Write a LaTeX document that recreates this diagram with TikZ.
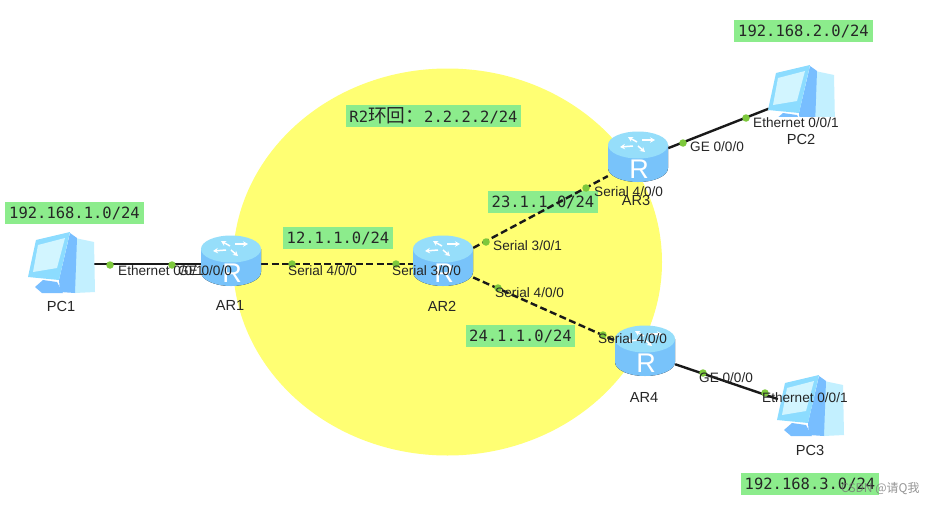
\documentclass[tikz,border=0pt]{standalone}
\usepackage{xcolor}
\usepackage{fontspec}
\setmainfont{Liberation Sans}
\setmonofont{DejaVu Sans Mono}
\newfontfamily\cjkfont{Noto Sans CJK SC}
\usetikzlibrary{arrows.meta, positioning}
\definecolor{loopyellow}{RGB}{255,255,115}
\definecolor{netgreen}{RGB}{140,236,140}
\definecolor{portgreen}{RGB}{125,200,60}
\definecolor{bodyblue}{RGB}{120,195,250}
\definecolor{bodylight}{RGB}{150,225,255}
\definecolor{topblue}{RGB}{150,222,250}
\definecolor{pcblue}{RGB}{120,190,255}
\definecolor{pcframe}{RGB}{140,220,255}
\definecolor{pctower}{RGB}{195,240,255}
\definecolor{pcscreen}{RGB}{210,245,255}
\tikzset{
  netbox/.style={fill=netgreen, inner sep=0pt, minimum height=22pt, font=\ttfamily\fontsize{15.5}{18}\selectfont, text=black!85},
  hub/.style={inner sep=0pt, minimum width=60pt, minimum height=52pt},
  pchub/.style={inner sep=0pt, minimum width=64pt, minimum height=62pt},
  ethernet/.style={line width=2.4pt, black!90},
  serial/.style={line width=2.4pt, black!90, dash pattern=on 7pt off 3.5pt},
  port/.style={circle, fill=portgreen, inner sep=0pt, minimum size=7.5pt},
  portlabel/.style={anchor=west, inner sep=0pt, font=\fontsize{13.6}{16}\selectfont, text=black!85},
  devicelabel/.style={inner sep=0pt, font=\fontsize{14.6}{17}\selectfont, text=black!85},
  routerarrow/.style={white, line width=1.5pt, -{Stealth[length=5pt,width=5.5pt]}},
  pics/routericon/.style={code={
    \fill[left color=bodyblue, middle color=bodylight, right color=bodyblue] (-30,-15) -- (-30,8) arc[start angle=180, end angle=360, x radius=30pt, y radius=14pt] -- (30,-15) -- cycle;
    \fill[topblue] (0,-15) ellipse[x radius=30pt, y radius=13.5pt];
    \draw[routerarrow] (-1,-18) -- (-10,-23);
    \draw[routerarrow] (4,-20) -- (17,-20);
    \draw[routerarrow] (-5,-14) -- (-18,-13);
    \draw[routerarrow] (0,-14) -- (7,-8);
    \node[inner sep=0pt, text=white, font=\fontsize{27}{27}\selectfont] (-glyph) at (1,9) {R};
  }},
  pics/pcicon/.style={code={
    \fill[pctower] (47,6) -- (66,10) -- (67,60) -- (47,61) -- cycle;
    \fill[pcblue] (42,1) -- (49,6) -- (47,61) -- (32,60) -- (31,48) -- cycle;
    \fill[pcblue] (7,55) -- (15,48) -- (29,50) -- (35,61) -- (14,61) -- cycle;
    \fill[pcframe] (8,8) -- (42,0) -- (31,48) -- (0,45) -- cycle;
    \fill[pcscreen] (10,13) -- (37,6) -- (29,36) -- (5,40) -- cycle;
  }}
}

\begin{document}
\begin{tikzpicture}[x=1pt, y=-1pt]
  \useasboundingbox (0,0) rectangle (939,506);
  \fill[white] (0,0) rectangle (939,506);
  \fill[loopyellow] (447.5,262) ellipse[x radius=214.5pt, y radius=193.5pt];

  \node[netbox, minimum width=139pt] (lan1) at (74.5,213) {192.168.1.0/24};
  \node[netbox, minimum width=139pt] (lan2) at (803.5,31) {192.168.2.0/24};
  \node[netbox, minimum width=138pt] (lan3) at (810,484) {192.168.3.0/24};
  \node[netbox, minimum width=110pt] (link12) at (338,238) {12.1.1.0/24};
  \node[netbox, minimum width=110pt] (link23) at (543,202) {23.1.1.0/24};
  \node[netbox, minimum width=109pt] (link24) at (520.5,336) {24.1.1.0/24};
  \node[netbox, minimum width=175pt] (loopback) at (433.5,116) {R2{\cjkfont\fontsize{18.7}{18}\selectfont 环回：}2.2.2.2/24};

  \node[pchub] (pc1) at (60,264) {};
  \node[pchub] (pc2) at (801,96) {};
  \node[pchub] (pc3) at (810,410) {};
  \node[hub] (ar1) at (231,264) {};
  \node[hub] (ar2) at (443,264) {};
  \node[hub] (ar3) at (638,160) {};
  \node[hub] (ar4) at (645,354) {};

  \draw[ethernet] (pc1) -- (ar1);
  \draw[serial] (ar1) -- (ar2);
  \draw[serial] (ar2) -- (ar3);
  \draw[serial] (ar2) -- (ar4);
  \draw[ethernet] (ar3) -- (pc2);
  \draw[ethernet] (ar4) -- (pc3);

  \pic (r1) at (ar1.center) {routericon};
  \pic (r2) at (ar2.center) {routericon};
  \pic (r3) at (ar3.center) {routericon};
  \pic (r4) at (ar4.center) {routericon};
  \pic at (28,232) {pcicon};
  \begin{scope}
    \clip (760,60) rectangle (840,116);
    \pic at (768,65) {pcicon};
  \end{scope}
  \pic at (777,375) {pcicon};

  \node[port] (p1a) at (110,265) {};
  \node[port] (p1b) at (172,265) {};
  \node[port] (p2a) at (292,264) {};
  \node[port] (p2b) at (396,264) {};
  \node[port] (p3a) at (486,242) {};
  \node[port] (p3b) at (586,188) {};
  \node[port] (p4a) at (498,288) {};
  \node[port] (p4b) at (603,335) {};
  \node[port] (p5a) at (683,143) {};
  \node[port] (p5b) at (746,118) {};
  \node[port] (p6a) at (703,373) {};
  \node[port] (p6b) at (765,393) {};

  \node[portlabel] (e1) at (118,271) {Ethernet 0/0/1};
  \node[portlabel] (g1) at (178,271) {GE 0/0/0};
  \node[portlabel] (s1) at (288,271) {Serial 4/0/0};
  \node[portlabel] (s2) at (392,271) {Serial 3/0/0};
  \node[portlabel] (s3) at (493,246) {Serial 3/0/1};
  \node[portlabel] (s4) at (495,293) {Serial 4/0/0};
  \node[portlabel] (s5) at (594,192) {Serial 4/0/0};
  \node[portlabel] (s6) at (598,339) {Serial 4/0/0};
  \node[portlabel] (g3) at (690,147) {GE 0/0/0};
  \node[portlabel] (e2) at (753,123) {Ethernet 0/0/1};
  \node[portlabel] (g4) at (699,378) {GE 0/0/0};
  \node[portlabel] (e3) at (762,398) {Ethernet 0/0/1};

  \node[devicelabel] (pc1name) at (61,306) {PC1};
  \node[devicelabel] (ar1name) at (230,305) {AR1};
  \node[devicelabel] (ar2name) at (442,306) {AR2};
  \node[devicelabel] (ar3name) at (636,200) {AR3};
  \node[devicelabel] (ar4name) at (644,397) {AR4};
  \node[devicelabel] (pc2name) at (801,139) {PC2};
  \node[devicelabel] (pc3name) at (810,450) {PC3};

  \node[anchor=west, inner sep=0pt, text=black!55, opacity=.75, font=\cjkfont\fontsize{12}{14}\selectfont] (mark) at (841,489) {CSDN @请Q我};
\end{tikzpicture}
\end{document}
